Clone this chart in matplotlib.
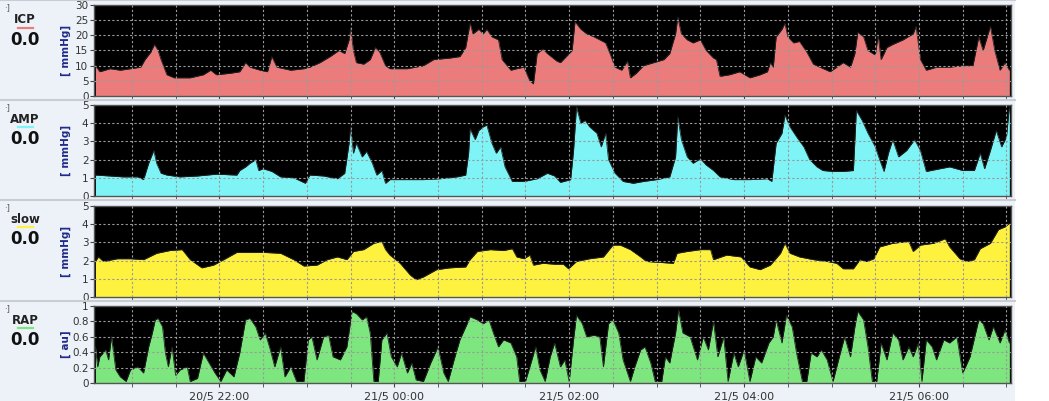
import numpy as np
import matplotlib
matplotlib.use("Agg")
import matplotlib.pyplot as plt
from matplotlib.patches import Rectangle
from matplotlib.lines import Line2D

# minutes since 20/5 20:00
icp_t = [35, 38, 45, 52, 59, 66, 69, 73, 75.5, 78, 80, 84, 89, 100, 109, 114, 118, 127.5, 134, 138,
         141, 148, 153, 156, 159.5, 169, 178, 182, 189, 196, 202, 206, 209, 210, 212, 214, 219, 223.5,
         227, 230, 234, 237, 249, 260, 267, 278, 285, 289, 292, 294, 298, 301, 303.5, 307, 311.5, 314,
         320, 324, 329, 333, 335.5, 338, 342, 345, 351.5, 354, 362, 364, 368, 372, 377, 381, 385, 388,
         391.5, 396, 400, 402, 406, 411, 418, 425, 429, 433, 434.5, 437, 441, 445, 450, 454, 459, 461,
         463.5, 470, 477, 484, 491, 496, 498, 500, 502, 506, 508, 510, 514, 518, 523, 527.5, 532, 539,
         543.5, 548, 553, 556, 558, 562, 565, 570, 572, 574, 578, 582, 589, 596, 598, 601, 605, 612,
         621, 630, 637, 641, 644, 649, 652, 655.6, 659, 662]
icp_v = [10, 8, 9, 8.5, 9, 9.5, 12, 14.5, 17, 15, 12, 7, 6, 6, 7, 8.5, 7, 7.5, 8, 11,
         9.5, 8.5, 8, 13, 9.5, 8.5, 9, 9.5, 11, 13, 15, 14, 18.5, 22.5, 15, 11, 10.5, 12,
         16, 14.5, 10, 9, 9, 10, 12, 12.5, 13, 16, 24, 20.5, 22, 20.5, 22, 19.5, 18.5, 12,
         8.5, 9, 9.5, 5, 4, 14, 15.5, 14, 11.5, 11, 15, 24.5, 22, 20.5, 19.5, 18.5, 17.5, 14,
         9.5, 8.5, 11.5, 6, 7.5, 10, 11, 12, 14, 20.5, 26, 20.5, 18.5, 17.5, 18.5, 15, 12.5, 12,
         6.5, 7, 8, 6, 7, 8, 11, 9.5, 19.5, 22, 24, 19.5, 17.5, 18, 14.5, 10.5, 9.5, 8,
         9.5, 11, 9.5, 14, 21, 19.5, 15, 13.5, 20, 12, 16, 17, 18.5, 20.5, 23, 12, 8.5, 9.5,
         9.5, 10, 10, 19.5, 15, 23, 15, 8.5, 11, 8.5]

amp_t = [35, 45, 54, 64, 68, 71.5, 75, 77, 80, 84, 93, 105, 118, 132, 134, 138, 141, 145, 147, 150,
         156, 162, 171, 179, 182, 191.5, 201, 206, 209, 210, 212, 214, 218, 221, 225, 228, 231.5, 234,
         237, 249, 260, 271.5, 283, 289, 291, 292, 295.5, 298, 301, 303.5, 307, 310, 313, 316, 321,
         329, 338, 345, 350, 354, 361, 363, 365, 368, 371, 374, 379, 382, 385, 387, 391.5, 397, 404,
         411, 420, 429, 433, 434.5, 437, 441, 445, 450, 454, 459, 463.5, 473, 484, 496, 499, 502, 506,
         508, 511.5, 516, 521, 525, 530, 534, 541, 548, 555, 557, 561, 565, 570, 573, 576, 579, 582,
         586, 591.5, 597, 601, 605, 614.5, 621, 630, 638, 642, 645, 649, 653, 656.7, 660, 662]
amp_v = [1.15, 1.1, 1.05, 1.05, 0.9, 1.8, 2.5, 1.8, 1.25, 1.15, 1.05, 1.1, 1.2, 1.15, 1.4, 1.6, 1.8, 2.0, 1.4, 1.5,
         1.35, 1.05, 1.0, 0.7, 1.15, 1.1, 0.95, 1.25, 2.9, 3.8, 2.35, 2.9, 2.15, 2.45, 1.8, 1.15, 1.4, 0.7,
         0.9, 0.9, 0.9, 0.95, 1.05, 1.15, 2.35, 3.7, 3.1, 3.6, 3.8, 3.9, 2.9, 2.35, 2.7, 1.6, 0.8,
         0.8, 0.95, 1.25, 1.1, 0.75, 0.9, 2.5, 4.9, 4.0, 4.15, 3.8, 3.45, 2.7, 3.45, 2.0, 1.25, 0.8, 0.7,
         0.8, 0.9, 1.05, 2.15, 4.35, 3.1, 2.15, 1.8, 2.05, 1.7, 1.4, 1.05, 0.9, 0.9, 0.95, 0.8, 2.9, 3.45,
         4.45, 3.8, 3.25, 2.7, 2.0, 1.6, 1.4, 1.35, 1.35, 1.4, 4.7, 4.15, 3.45, 2.7, 2.0, 1.35, 2.35, 3.1,
         2.15, 2.5, 3.1, 2.5, 1.35, 1.5, 1.6, 1.4, 1.4, 2.35, 1.5, 2.5, 3.6, 2.7, 3.25, 4.9]

slow_t = [35, 37, 40.5, 50, 59, 68, 77, 86, 94.5, 100, 108, 116, 123, 132, 141, 150, 162, 171, 178, 187,
          194, 201, 207.5, 212, 219, 226, 231.5, 234, 237, 244, 251, 255, 260, 269, 278, 289, 292, 297,
          306, 315, 321, 324, 329, 333, 335.5, 342, 350, 356, 359.5, 365, 374, 383.5, 390, 395, 402,
          409, 413, 422, 431.5, 434, 441, 450, 457, 459, 468, 478, 484, 491, 498, 505, 508, 511.5, 518,
          527.5, 537, 543.5, 548, 555, 559.5, 564, 569, 573, 582, 593, 596, 601, 610, 618, 621, 628,
          632.7, 638, 642, 649, 654.5, 659, 662]
slow_v = [1.95, 2.2, 1.95, 2.1, 2.1, 2.05, 2.4, 2.55, 2.6, 2.05, 1.6, 1.75, 2.05, 2.45, 2.45, 2.45, 2.4, 2.05, 1.7, 1.75,
          2.05, 2.2, 2.05, 2.5, 2.6, 2.95, 3.05, 2.6, 2.3, 1.85, 1.2, 0.95, 1.1, 1.5, 1.6, 1.65, 2.05, 2.5,
          2.6, 2.55, 2.65, 2.2, 2.1, 2.3, 1.75, 1.85, 1.8, 1.8, 1.55, 1.95, 2.1, 2.2, 2.85, 2.85, 2.6,
          2.2, 1.95, 1.9, 1.85, 2.4, 2.5, 2.6, 2.6, 2.05, 2.3, 2.2, 1.65, 1.5, 1.75, 2.4, 2.95, 2.4, 2.2,
          2.05, 1.95, 1.85, 1.55, 1.55, 2.05, 1.95, 2.1, 2.75, 2.95, 3.05, 2.5, 2.85, 2.95, 3.2, 2.75, 2.1,
          1.95, 2.05, 2.65, 2.95, 3.7, 3.85, 4.05]

rap_t = [35, 36.5, 38, 42, 44, 46, 49, 52, 56, 59, 64, 68, 71.5, 74, 76, 78, 81, 83, 85, 87.5,
         90, 93, 98, 100, 105, 109, 113, 117, 121, 125, 130, 134, 138, 141, 145, 148, 151.5, 155, 158, 162,
         165, 169, 173, 178, 181, 183.5, 187, 191.5, 195, 198, 203, 207.5, 211, 214, 218, 221, 223.5, 226,
         229, 231.5, 235, 238, 242, 245, 249, 252, 255, 260, 265, 270, 274, 277, 281, 285, 290, 292,
         297, 301, 305, 308, 311.5, 315, 320, 324, 326, 330, 333, 337, 340, 343.5, 347, 350, 354, 357,
         360, 363, 365, 369, 372, 377, 381, 383.5, 387, 390, 394, 397, 402, 405, 409, 412, 416, 419,
         423.5, 426, 429, 433, 435, 438, 443, 448, 452, 455.5, 459, 462, 466, 469, 473, 476, 480, 484,
         488, 492, 497, 500, 502, 506, 509, 513, 516, 520, 523, 526, 530, 533, 537, 541, 546, 549,
         553, 556, 558, 562, 565, 568, 571, 574, 578, 582, 586, 589, 593, 596, 599.5, 602, 605, 609,
         612, 617, 621, 626, 630, 635, 641, 644, 648, 651, 655.6, 659, 662]
rap_v = [0.47, 0.21, 0.34, 0.43, 0.3, 0.6, 0.17, 0.08, 0.02, 0.17, 0.21, 0.13, 0.47, 0.65, 0.82, 0.84, 0.73, 0.39, 0.21, 0.47,
         0.1, 0.17, 0.21, 0.02, 0.06, 0.39, 0.26, 0.13, 0.02, 0.17, 0.08, 0.39, 0.82, 0.84, 0.73, 0.56, 0.65, 0.43, 0.21, 0.47,
         0.08, 0.21, 0.02, 0.02, 0.56, 0.6, 0.3, 0.6, 0.62, 0.34, 0.3, 0.47, 0.93, 0.9, 0.82, 0.86, 0.65, 0.02,
         0.02, 0.56, 0.65, 0.34, 0.21, 0.39, 0.13, 0.26, 0.04, 0.02, 0.26, 0.47, 0.13, 0.02, 0.3, 0.56, 0.77, 0.86,
         0.82, 0.77, 0.82, 0.65, 0.47, 0.56, 0.52, 0.34, 0.02, 0.02, 0.21, 0.47, 0.17, 0.02, 0.34, 0.52, 0.21, 0.3,
         0.02, 0.56, 0.88, 0.77, 0.6, 0.62, 0.6, 0.21, 0.77, 0.82, 0.65, 0.3, 0.02, 0.21, 0.43, 0.47, 0.26, 0.02,
         0.02, 0.34, 0.26, 0.65, 0.95, 0.65, 0.6, 0.3, 0.6, 0.43, 0.8, 0.34, 0.6, 0.02, 0.39, 0.21, 0.43, 0.02,
         0.34, 0.26, 0.52, 0.6, 0.82, 0.52, 0.88, 0.73, 0.39, 0.02, 0.02, 0.39, 0.34, 0.43, 0.3, 0.02, 0.39, 0.6,
         0.34, 0.73, 0.93, 0.82, 0.47, 0.02, 0.02, 0.52, 0.3, 0.65, 0.56, 0.3, 0.47, 0.34, 0.52, 0.02, 0.56, 0.47,
         0.3, 0.56, 0.52, 0.6, 0.13, 0.34, 0.82, 0.77, 0.56, 0.73, 0.52, 0.69, 0.52]

tick_minutes = [120, 240, 360, 480, 600]
tick_labels = ["20/5 22:00", "21/5 00:00", "21/5 02:00", "21/5 04:00", "21/5 06:00"]
x_range = (34, 663)

panels = [
    # name, t, v, colour, ylim, yticks, unit
    ("ICP", icp_t, icp_v, "#ec7c7c", (0, 30), [0, 5, 10, 15, 20, 25, 30], "[ mmHg]"),
    ("AMP", amp_t, amp_v, "#7ff4f7", (0, 5), [0, 1, 2, 3, 4, 5], "[ mmHg]"),
    ("slow", slow_t, slow_v, "#fff23f", (0, 5), [0, 1, 2, 3, 4, 5], "[ mmHg]"),
    ("RAP", rap_t, rap_v, "#7ee67e", (0, 1), [0, 0.2, 0.4, 0.6, 0.8, 1], "[ au]"),
]
# axes boxes in figure fraction: left, bottom, width, height
boxes = [
    (0.0896, 0.7606, 0.874, 0.227),
    (0.0896, 0.5112, 0.874, 0.227),
    (0.0896, 0.2594, 0.874, 0.227),
    (0.0896, 0.0449, 0.874, 0.192),
]
sep_top = [0.999, 0.7506, 0.5012, 0.2494]

fig = plt.figure(figsize=(10.49, 4.01), dpi=100, facecolor="#edf2f8")
# white strip at the right edge
fig.patches.append(Rectangle((0.968, 0), 0.032, 1, transform=fig.transFigure,
                             facecolor="white", edgecolor="none", zorder=0))

for i, (name, t, v, col, ylim, yt, unit) in enumerate(panels):
    ax = fig.add_axes(boxes[i])
    ax.set_facecolor("black")
    ax.fill_between(t, 0, v, color=col, lw=0, zorder=2)
    ax.plot(t, v, color="#222222", lw=0.6, zorder=2)
    ax.set_xlim(*x_range)
    ax.set_ylim(*ylim)
    ax.set_yticks(yt)
    ax.set_yticklabels([("%g" % y) for y in yt], fontsize=7.5, color="#333333")
    ax.set_xticks(tick_minutes)
    ax.set_xticks(np.arange(60, 661, 30), minor=True)
    ax.tick_params(axis="y", length=3, pad=1, color="#444444")
    ax.tick_params(axis="x", which="both", length=3, color="#444444")
    if i == 3:
        ax.set_xticklabels(tick_labels, fontsize=8, color="#333333")
    else:
        ax.set_xticklabels([])
    for x in np.arange(60, 661, 30):
        ax.axvline(x, color="#9a9a9a", lw=0.8, ls=(0, (2, 2)), zorder=3)
    for y in yt[1:-1]:
        ax.axhline(y, color="#9a9a9a", lw=0.8, ls=(0, (2, 2)), zorder=3)
    for s in ax.spines.values():
        s.set_color("#555555")
        s.set_linewidth(1.0)

    # left side read-out
    b, h = boxes[i][1], boxes[i][3]
    top = sep_top[i]
    fig.text(0.024, top - 0.048, name, fontsize=8.5, fontweight="bold", color="#222222",
             ha="center", va="center")
    fig.lines.append(Line2D([0.017, 0.031], [top - 0.068, top - 0.068], transform=fig.transFigure,
                            color=col, lw=1.6))
    fig.text(0.024, top - 0.098, "0.0", fontsize=12, fontweight="bold", color="#111111",
             ha="center", va="center")
    fig.text(0.0625, b + h / 2, unit, rotation=90, fontsize=7.5, fontweight="bold",
             color="#1f2a8a", ha="center", va="center")
    # small corner mark
    fig.text(0.004, top - 0.018, "\u00b7]", fontsize=6, color="#555555", va="center")

# panel separators
for yf in sep_top:
    fig.lines.append(Line2D([0, 0.968], [yf, yf], transform=fig.transFigure, color="#c8cdd4", lw=1.5))

fig.savefig("out.png", dpi=100, facecolor=fig.get_facecolor())
